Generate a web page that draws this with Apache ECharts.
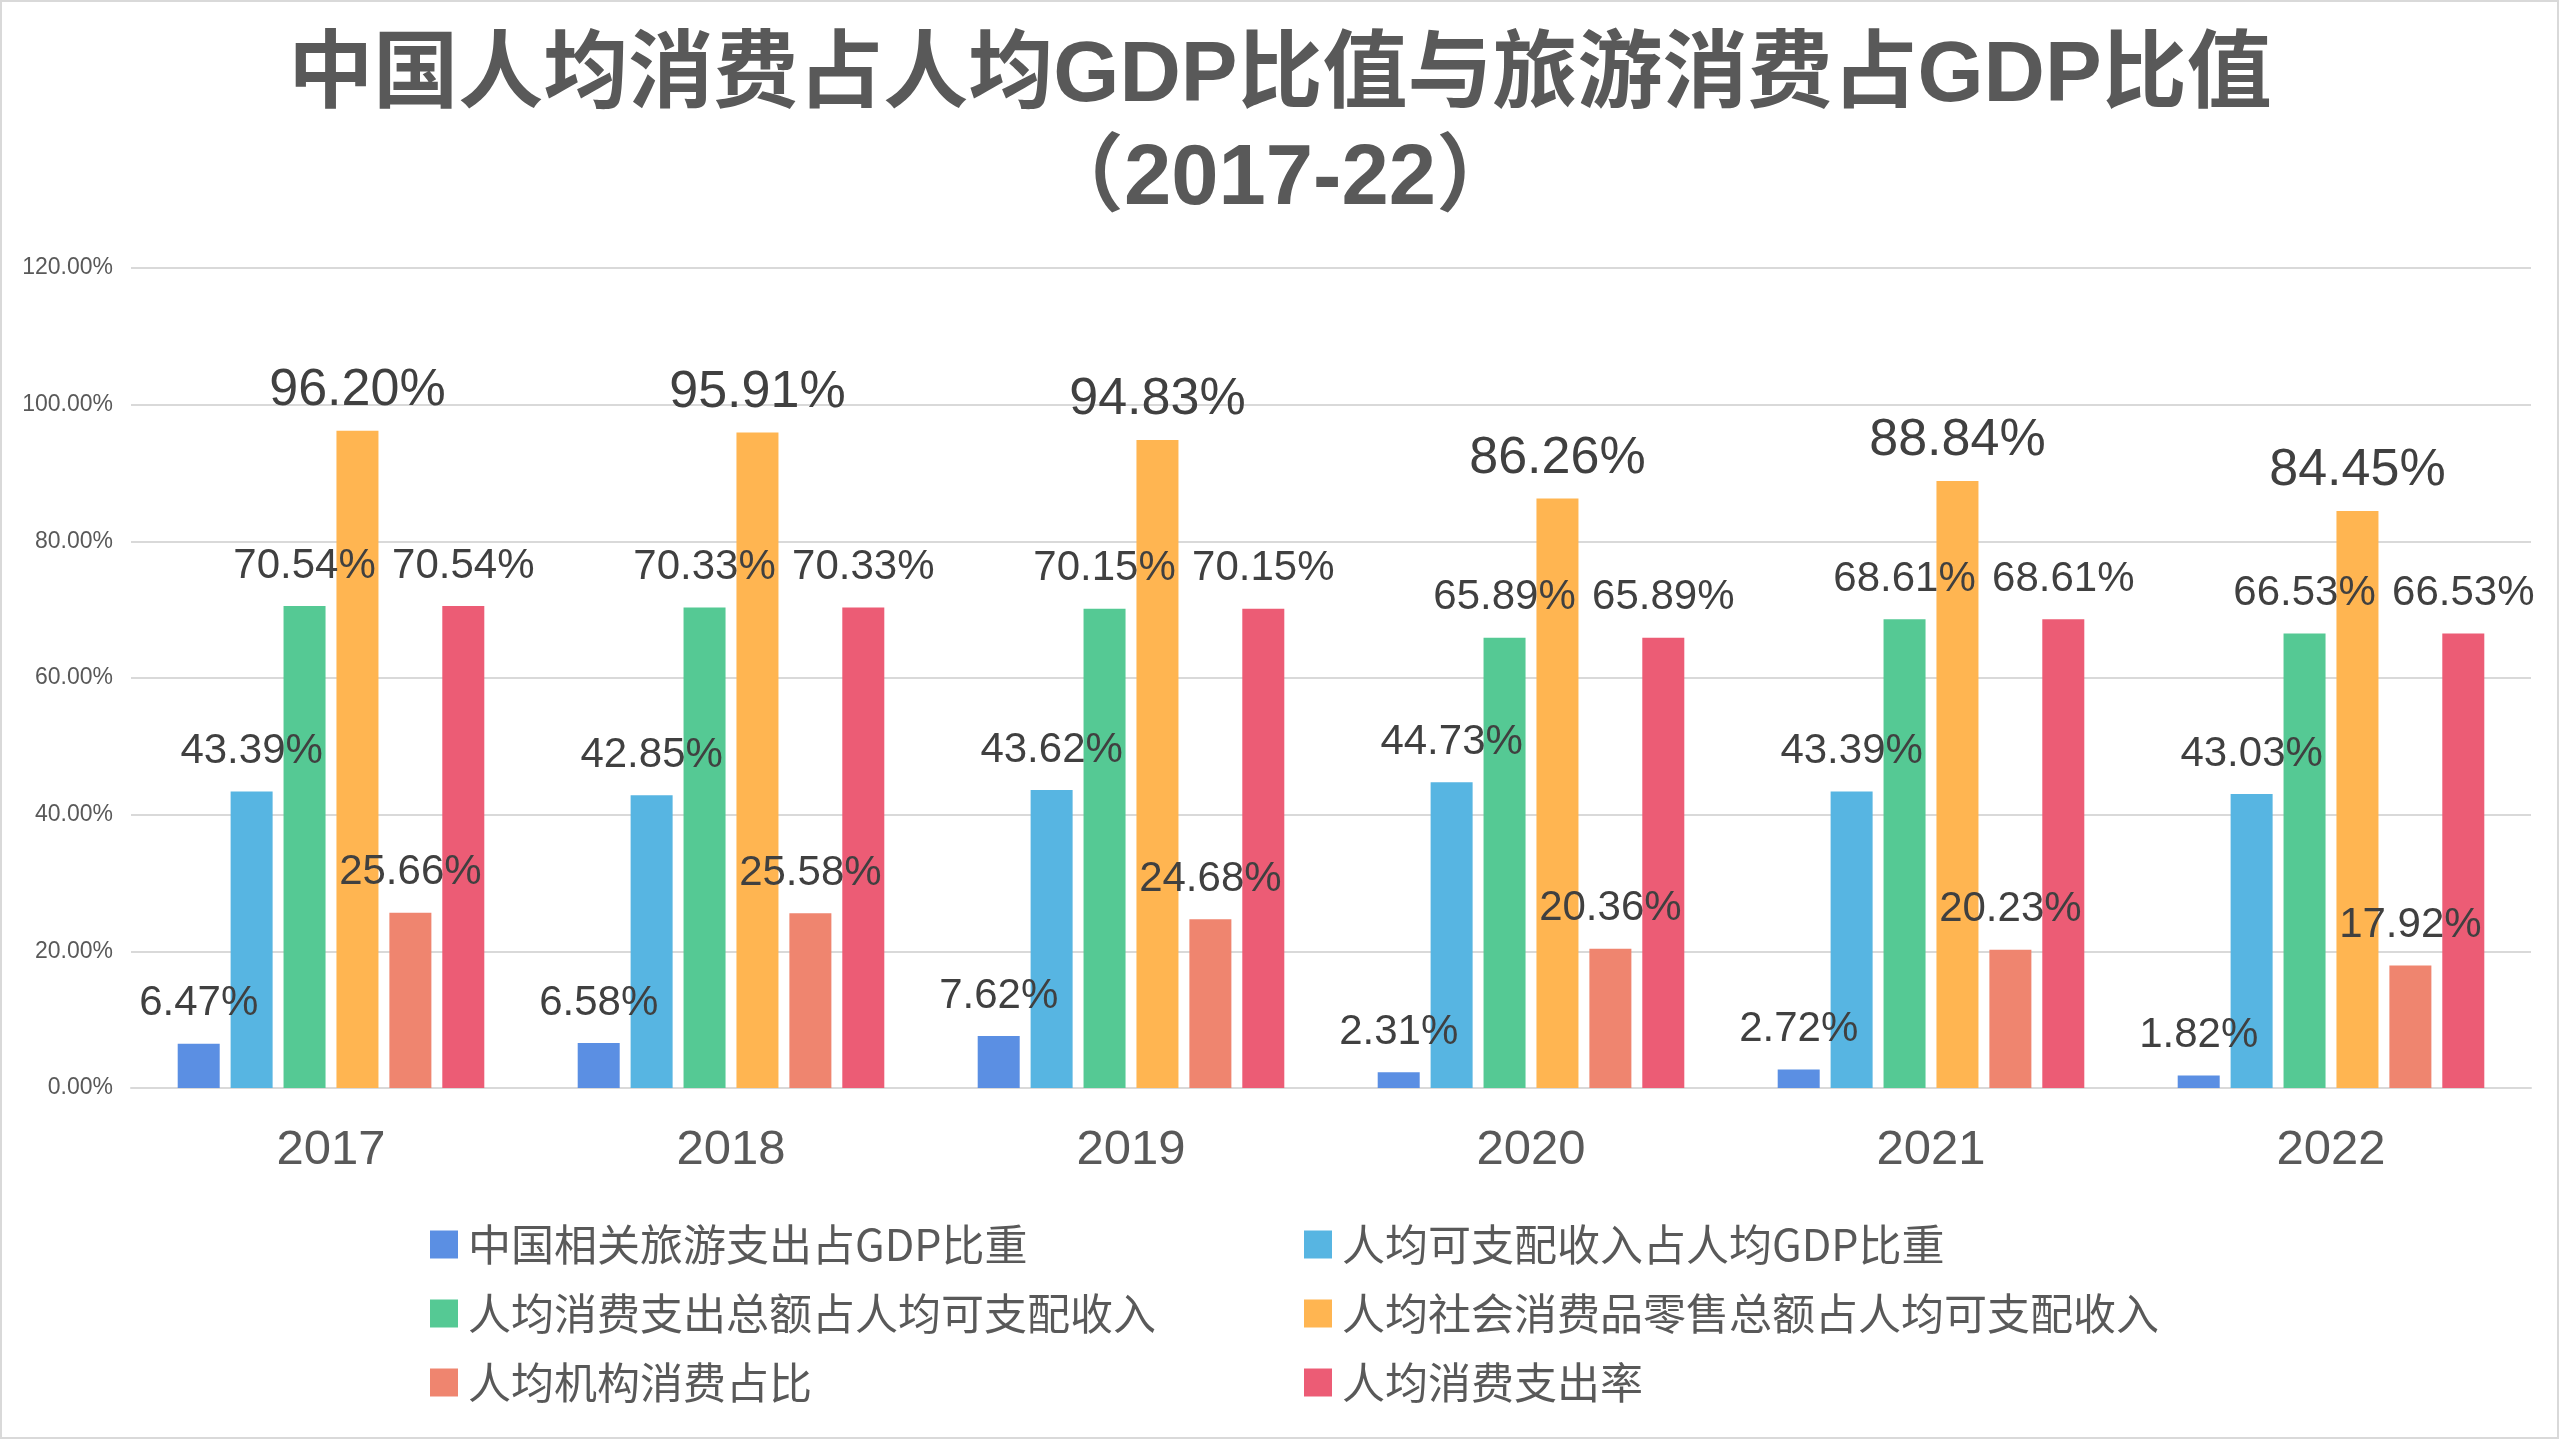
<!DOCTYPE html>
<html>
<head>
<meta charset="utf-8">
<script src="https://cdn.jsdelivr.net/npm/echarts@6/dist/echarts.min.js"></script>
<style>html,body{margin:0;padding:0;background:#fff;}#c{width:2560px;height:1440px;}</style>
</head>
<body>
<div id="c"></div>
<script>
const years = ['2017', '2018', '2019', '2020', '2021', '2022'];
const seriesNames = [
  '中国相关旅游支出占GDP比重',
  '人均可支配收入占人均GDP比重',
  '人均消费支出总额占人均可支配收入',
  '人均社会消费品零售总额占人均可支配收入',
  '人均机构消费占比',
  '人均消费支出率'
];
const travelShare = [6.47, 6.58, 7.62, 2.31, 2.72, 1.82];
const incomeShare = [43.39, 42.85, 43.62, 44.73, 43.39, 43.03];
const consumptionShare = [70.54, 70.33, 70.15, 65.89, 68.61, 66.53];
const retailShare = [96.20, 95.91, 94.83, 86.26, 88.84, 84.45];
const institutionShare = [25.66, 25.58, 24.68, 20.36, 20.23, 17.92];
const consumptionRate = [70.54, 70.33, 70.15, 65.89, 68.61, 66.53];
const colors = ['#5B8FE3', '#57B5E2', '#55C994', '#FFB551', '#EF856F', '#EC5C75'];
const labelSizes = [42, 42, 42, 52, 42, 42];
const allData = [travelShare, incomeShare, consumptionShare, retailShare, institutionShare, consumptionRate];

const FONT = "'Liberation Sans', Arial, 'Noto Sans CJK SC', sans-serif";
const chart = echarts.init(document.getElementById('c'));
const series = allData.map((d, i) => ({
  name: seriesNames[i],
  type: 'bar',
  data: d,
  barWidth: 42,
  barGap: '26%',
  itemStyle: { color: colors[i] },
  label: {
    show: true,
    position: 'top',
    distance: 14 + (52 - labelSizes[i]) / 2,
    fontSize: labelSizes[i],
    fontFamily: FONT,
    color: '#404040',
    formatter: p => p.value.toFixed(2) + '%'
  }
}));
const legendCommon = {
  orient: 'vertical',
  icon: 'rect',
  itemWidth: 28,
  itemHeight: 28,
  itemGap: 26,
  top: 1218,
  textStyle: { fontSize: 43, lineHeight: 43, color: '#595959', fontFamily: "'Noto Sans CJK SC', sans-serif", padding: [0, 0, 0, 5] }
};
chart.setOption({
  animation: false,
  backgroundColor: '#ffffff',
  color: colors,
  title: {
    text: '中国人均消费占人均GDP比值与旅游消费占GDP比值\n（2017-22）',
    left: 'center',
    top: 21,
    textStyle: { fontSize: 85, fontWeight: 'bold', lineHeight: 103, color: '#595959', fontFamily: "'Liberation Sans', 'Noto Sans CJK SC', sans-serif" }
  },
  legend: [
    Object.assign({}, legendCommon, { left: 425, data: [seriesNames[0], seriesNames[2], seriesNames[4]] }),
    Object.assign({}, legendCommon, { left: 1299, data: [seriesNames[1], seriesNames[3], seriesNames[5]] })
  ],
  grid: { left: 131, right: 29, top: 268, bottom: 352, containLabel: false },
  xAxis: {
    type: 'category',
    data: years,
    axisLine: { lineStyle: { color: '#d9d9d9', width: 2 } },
    axisTick: { show: false },
    axisLabel: { fontSize: 49, color: '#595959', margin: 38, fontFamily: FONT }
  },
  yAxis: {
    type: 'value',
    min: 0,
    max: 120,
    interval: 20,
    axisLine: { show: false },
    axisTick: { show: false },
    splitLine: { lineStyle: { color: '#d9d9d9', width: 2 } },
    axisLabel: { fontSize: 23, color: '#595959', margin: 18, fontFamily: FONT, formatter: v => v.toFixed(2) + '%' }
  },
  graphic: [{
    type: 'rect',
    shape: { x: 1, y: 1, width: 2557, height: 1437 },
    style: { fill: 'none', stroke: '#d9d9d9', lineWidth: 2 },
    silent: true
  }],
  series: series
});
</script>
</body>
</html>
